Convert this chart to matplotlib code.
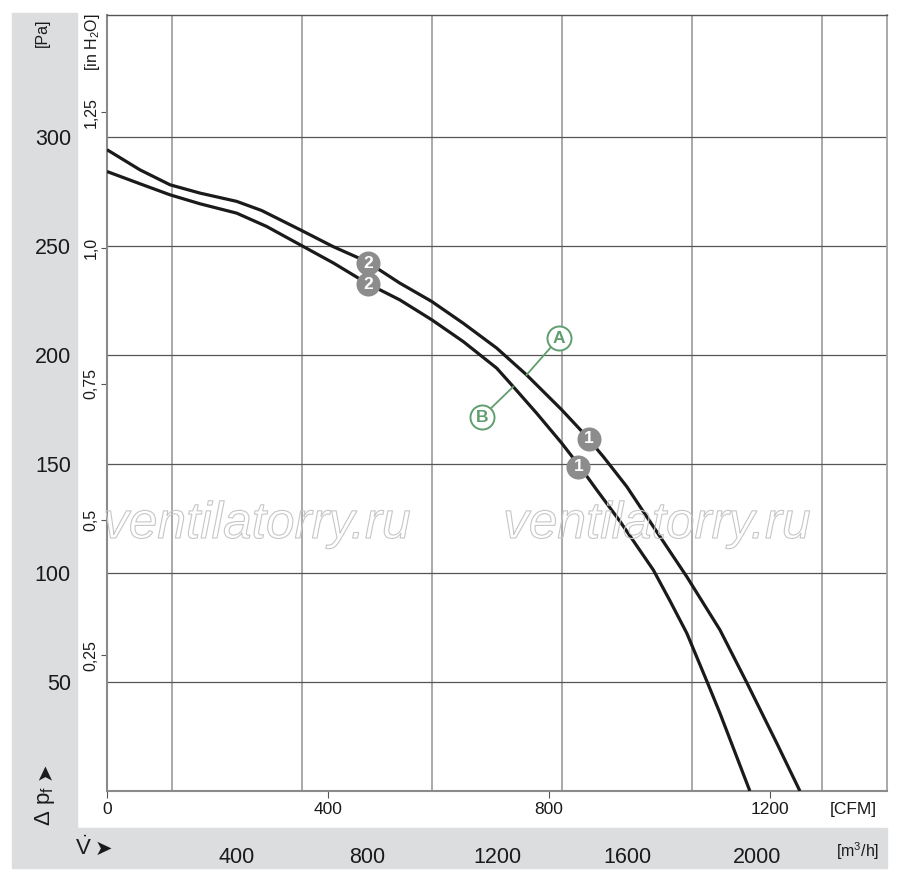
import matplotlib
matplotlib.use("Agg")
import matplotlib.pyplot as plt
from matplotlib.patches import Rectangle
import matplotlib.patheffects as pe

plt.rcParams['font.family'] = ['Liberation Sans', 'DejaVu Sans']
plt.rcParams['mathtext.default'] = 'regular'

# ---- data (flow in m3/h, pressure in Pa) ----
upper_flow = [0, 101, 194, 286, 399, 476, 594, 695, 799, 901, 999, 1096, 1199, 1291,
              1399, 1466, 1527, 1599, 1681, 1784, 1886, 1968, 2061, 2132]
upper_pa = [294.2, 285.0, 278.1, 274.3, 270.5, 266.3, 257.5, 249.8, 242.9, 233.0, 224.6,
            214.6, 203.2, 190.9, 174.9, 164.2, 153.4, 139.7, 121.3, 98.3, 73.9, 49.9,
            21.9, 0.0]
lower_flow = [0, 101, 194, 286, 399, 491, 594, 697, 799, 901, 999, 1096, 1199, 1250,
              1322, 1399, 1455, 1507, 1578, 1681, 1732, 1784, 1847, 1886, 1978]
lower_pa = [284.2, 278.6, 273.5, 269.4, 265.1, 259.0, 250.6, 242.2, 233.0, 225.3, 216.2,
            206.2, 194.0, 185.5, 173.3, 159.6, 148.8, 138.1, 123.8, 101.4, 87.3, 72.4,
            49.9, 35.7, 0.0]

num_labels = ['2', '2', '1', '1']
num_flow = [804, 804, 1483, 1450]
num_pa = [242.2, 232.5, 161.5, 148.8]

letter_labels = ['A', 'B']
letter_flow = [1390, 1153]
letter_pa = [207.7, 171.5]
leader_end_flow = [1291, 1250]
leader_end_pa = [190.9, 185.5]

m3h_ticks = [400, 800, 1200, 1600, 2000]
m3h_grid = [200, 400, 600, 800, 1000, 1200, 1400, 1600, 1800, 2000, 2200]
cfm_ticks = [0, 400, 800, 1200]
pa_ticks = [50, 100, 150, 200, 250, 300]
inh2o_ticks = [0.25, 0.5, 0.75, 1.0, 1.25]
inh2o_labels = ['0,25', '0,5', '0,75', '1,0', '1,25']

x_max = 2400
y_max = 356

fig = plt.figure(figsize=(9, 8.8), dpi=100)
W, H = 900, 880

def fx(px):
    return px / W

def fy(py):
    return 1 - py / H

# grey bands
band = '#dcdddf'
fig.patches.append(Rectangle((fx(12), fy(828)), 65 / W, (828 - 13) / H,
                             transform=fig.transFigure, color=band, zorder=-1))
fig.patches.append(Rectangle((fx(12), fy(868)), (887 - 12) / W, 40 / H,
                             transform=fig.transFigure, color=band, zorder=-1))

ax = fig.add_axes([fx(107), fy(791), (887 - 107) / W, (791 - 15) / H])
ax.set_xlim(0, x_max)
ax.set_ylim(0, y_max)

# grids
ax.set_xticks(m3h_grid, minor=True)
ax.grid(axis='x', which='minor', color='#a2a2a2', lw=1.3)
ax.set_yticks(pa_ticks)
ax.grid(axis='y', which='major', color='#555555', lw=0.9)
ax.set_axisbelow(True)

ax.set_xticks(m3h_ticks)
ax.set_xticklabels([str(v) for v in m3h_ticks])
ax.tick_params(axis='x', which='major', length=0, pad=40, labelsize=15.5, labelcolor='#1a1a1a')
ax.tick_params(axis='x', which='minor', length=0)
ax.set_yticklabels([str(v) for v in pa_ticks])
ax.tick_params(axis='y', length=0, pad=26, labelsize=15.5, labelcolor='#1a1a1a')

for s in ['left', 'bottom']:
    ax.spines[s].set_color('#8a8a8a')
    ax.spines[s].set_linewidth(1.5)
ax.spines['top'].set_color('#555555')
ax.spines['top'].set_linewidth(1.0)
ax.spines['right'].set_color('#a2a2a2')
ax.spines['right'].set_linewidth(1.3)

# secondary CFM axis
sx = ax.secondary_xaxis('bottom', functions=(lambda v: v * 0.588578, lambda v: v / 0.588578))
sx.set_xticks(cfm_ticks)
sx.set_xticklabels([str(v) for v in cfm_ticks])
sx.tick_params(length=5, width=0.8, color='#555555', pad=3, labelsize=12.5, labelcolor='#1a1a1a')
sx.spines['bottom'].set_visible(False)

# secondary inH2O axis
sy = ax.secondary_yaxis('left', functions=(lambda v: v / 249.089, lambda v: v * 249.089))
sy.set_yticks(inh2o_ticks)
sy.set_yticklabels(inh2o_labels, rotation=90, va='center')
sy.tick_params(length=4, width=0.8, color='#555555', pad=2, labelsize=11.5, labelcolor='#1a1a1a')
sy.spines['left'].set_visible(False)

# curves
ax.plot(upper_flow, upper_pa, color='#1a1a1a', lw=2.3, solid_capstyle='butt',
        solid_joinstyle='round', zorder=3)
ax.plot(lower_flow, lower_pa, color='#1a1a1a', lw=2.3, solid_capstyle='butt',
        solid_joinstyle='round', zorder=3)

# numbered markers
ax.scatter(num_flow, num_pa, s=300, color='#8c8c8d', zorder=5, linewidths=0)
for t, xv, yv in zip(num_labels, num_flow, num_pa):
    ax.text(xv, yv, t, color='white', fontsize=12.5, fontweight='bold',
            ha='center', va='center', zorder=6)

# A / B callouts
green = '#5f9e6e'
for xv, yv, ex, ey in zip(letter_flow, letter_pa, leader_end_flow, leader_end_pa):
    ax.plot([xv, ex], [yv, ey], color=green, lw=1.3, zorder=4)
ax.scatter(letter_flow, letter_pa, s=300, facecolor='white', edgecolor=green,
           linewidths=1.4, zorder=5)
for t, xv, yv in zip(letter_labels, letter_flow, letter_pa):
    ax.text(xv, yv, t, color=green, fontsize=12.5, fontweight='bold',
            ha='center', va='center', zorder=6)

# watermark
for cx in [257, 657]:
    fig.text(fx(cx), fy(538), 'ventilatorry.ru', fontsize=37, style='italic',
             color='none', ha='center', va='baseline', zorder=10,
             path_effects=[pe.Stroke(linewidth=0.8, foreground='#c6c6c6')])

# axis unit texts
dark = '#1a1a1a'
fig.text(fx(42), fy(33), '[Pa]', rotation=90, fontsize=11.5, ha='center', va='center', color=dark)
fig.text(fx(92), fy(42), '[in H$_2$O]', rotation=90, fontsize=11.5, ha='center', va='center', color=dark)
fig.text(fx(45), fy(806), 'Δ p$_f$', rotation=90, fontsize=16, ha='center', va='center', color=dark)
fig.text(fx(45), fy(771), '➤', rotation=90, fontsize=15, ha='center', va='center', color=dark,
         family='DejaVu Sans')
fig.text(fx(83), fy(848), r'$\dot{V}$', fontsize=16, ha='center', va='center', color=dark)
fig.text(fx(103), fy(849), '➤', fontsize=15, ha='center', va='center', color=dark,
         family='DejaVu Sans')
fig.text(fx(853), fy(809), '[CFM]', fontsize=12.5, ha='center', va='center', color=dark)
fig.text(fx(858), fy(851), '[m$^3$/h]', fontsize=11.5, ha='center', va='center', color=dark)

fig.savefig('out.png', dpi=100, facecolor='white')
